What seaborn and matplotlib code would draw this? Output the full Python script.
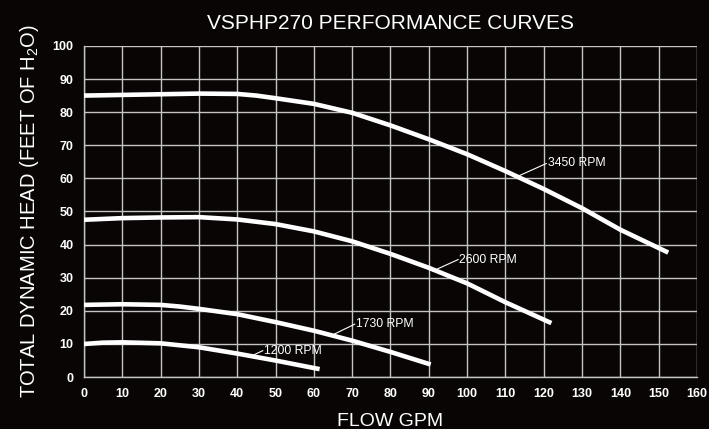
import seaborn as sns
import matplotlib.pyplot as plt
import pandas as pd

# pump curves (flow in GPM, head in feet)
flow_3450 = [0, 10, 20, 30, 40, 45, 50, 60, 70, 80, 90, 100, 110, 120, 130, 140, 152.5]
head_3450 = [85, 85.2, 85.4, 85.6, 85.5, 85.0, 84.2, 82.5, 79.8, 76, 71.8, 67.3, 62.2, 56.8, 51, 44.5, 37.6]

flow_2600 = [0, 10, 20, 30, 40, 50, 60, 70, 80, 90, 100, 110, 122]
head_2600 = [47.5, 48, 48.2, 48.3, 47.6, 46.2, 44, 41, 37.2, 33, 28.3, 22.6, 16.3]

flow_1730 = [0, 10, 20, 25, 30, 40, 50, 60, 70, 80, 90.5]
head_1730 = [21.8, 22, 21.8, 21.3, 20.6, 19, 16.6, 14, 11, 7.6, 3.8]

flow_1200 = [0, 5, 10, 20, 30, 40, 50, 61.5]
head_1200 = [10, 10.4, 10.5, 10.2, 9.0, 7.1, 5.0, 2.4]

rpm_labels = ['3450 RPM', '2600 RPM', '1730 RPM', '1200 RPM']
# (curve point, label point) for leader lines
label_anchor = [(113, 60.5), (91, 32), (65, 12.8), (43, 6)]
label_pos = [(121, 64.5), (98, 35.5), (71, 16), (47, 8)]

x_ticks = list(range(0, 161, 10))
y_ticks = list(range(0, 101, 10))

frames = []
for name, fx, hy in zip(rpm_labels,
                        [flow_3450, flow_2600, flow_1730, flow_1200],
                        [head_3450, head_2600, head_1730, head_1200]):
    frames.append(pd.DataFrame({'flow': fx, 'head': hy, 'rpm': name}))
df = pd.concat(frames, ignore_index=True)

bg = '#0a0505'
grid_c = '#c4c4c4'

sns.set_style('dark')
plt.rcParams['font.family'] = ['Liberation Sans', 'DejaVu Sans']
plt.rcParams['mathtext.default'] = 'regular'

fig = plt.figure(figsize=(7.09, 4.29), dpi=100, facecolor=bg)
ax = fig.add_axes([0.1185, 0.121, 0.8645, 0.772])
ax.set_facecolor(bg)

sns.lineplot(data=df, x='flow', y='head', units='rpm', estimator=None,
             color='white', lw=3.3, sort=False, ax=ax, legend=False,
             solid_capstyle='butt', solid_joinstyle='round', zorder=3)

for name, (ax0, ay0), (tx, ty) in zip(rpm_labels, label_anchor, label_pos):
    ax.plot([ax0, tx - 0.3], [ay0, ty], color='white', lw=0.8, zorder=3)
    ax.text(tx, ty, name, color='white', fontsize=8.8, va='center', ha='left', zorder=4)

ax.set_xlim(0, 160)
ax.set_ylim(0, 100)
ax.set_xticks(x_ticks)
ax.set_yticks(y_ticks)
ax.grid(True, color=grid_c, lw=1.0)
ax.set_axisbelow(True)
for side in ['top', 'right']:
    ax.spines[side].set_visible(False)
for side in ['left', 'bottom']:
    ax.spines[side].set_color(grid_c)
    ax.spines[side].set_linewidth(1.0)
ax.tick_params(axis='both', colors=grid_c, labelcolor='white', labelsize=9,
               length=4, width=1.0, direction='out')
for lab in ax.get_xticklabels() + ax.get_yticklabels():
    lab.set_fontweight('bold')

ax.set_xlabel('FLOW GPM', color='white', fontsize=14, labelpad=10)
ax.set_ylabel('TOTAL DYNAMIC HEAD (FEET OF H$_2$O)', color='white', fontsize=14.5, labelpad=8)
ax.set_title('VSPHP270 PERFORMANCE CURVES', color='white', fontsize=15, pad=12)

plt.savefig('out.png', dpi=100, facecolor=bg)
